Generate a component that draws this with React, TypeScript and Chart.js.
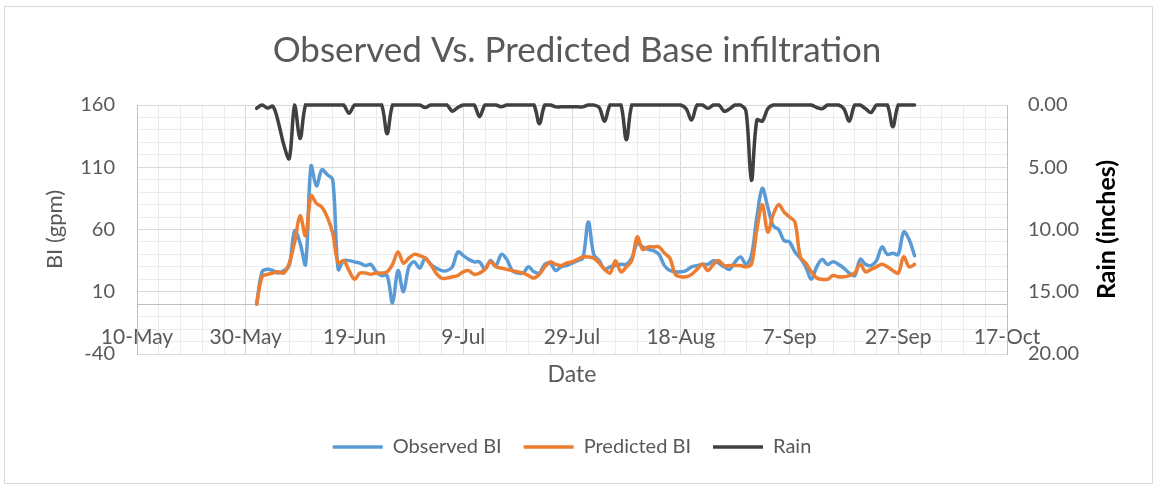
import React, { useEffect, useRef } from 'react';
import { Chart, registerables } from 'chart.js';

Chart.register(...registerables);

const FONT = 'Lato, "Noto Sans", sans-serif';

// x values are days after 10-May; the series start on 1-Jun (day 22), one value per day
const firstDay = 22;
const xTickLabels = ['10-May', '30-May', '19-Jun', '9-Jul', '29-Jul', '18-Aug', '7-Sep', '27-Sep', '17-Oct'];
const leftTickLabels = [-40, 10, 60, 110, 160];

const observedBI = [
  0, 26, 28, 27, 25, 27, 31, 59, 49, 32,
  111, 95, 108, 104, 100, 28, 35, 35, 34, 33,
  31, 32, 26, 23, 23, 1, 27, 10, 30, 34,
  29, 37, 32, 29, 27, 27, 30, 42, 39, 36,
  34, 34, 28, 35, 31, 40, 36, 27, 25, 25,
  30, 26, 25, 32, 33, 27, 30, 31, 33, 35,
  37, 66, 40, 35, 28, 30, 31, 32, 32, 37,
  49, 46, 44, 43, 40, 31, 27, 26, 26, 27,
  30, 31, 32, 32, 35, 33, 30, 28, 34, 38,
  32, 39, 70, 93, 78, 63, 60, 51, 50, 42,
  37, 30, 20, 30, 36, 32, 34, 32, 29, 25,
  23, 36, 32, 31, 35, 46, 40, 41, 40, 58,
  52, 39,
];

const predictedBI = [
  0, 22, 24, 25, 26, 25, 33, 50, 71, 55,
  87, 81, 78, 70, 57, 33, 35, 27, 20, 25,
  25, 24, 25, 25, 26, 32, 42, 33, 37, 40,
  39, 37, 32, 25, 21, 21, 22, 23, 26, 27,
  24, 25, 28, 34, 30, 29, 28, 27, 26, 25,
  23, 21, 24, 30, 34, 32, 31, 33, 34, 36,
  38, 38, 37, 33, 28, 25, 35, 26, 30, 35,
  54, 44, 46, 46, 46, 41, 37, 24, 22, 22,
  24, 28, 32, 27, 32, 35, 31, 31, 31, 31,
  30, 32, 60, 80, 58, 72, 80, 74, 70, 66,
  38, 33, 26, 21, 20, 20, 23, 22, 22, 23,
  25, 32, 26, 28, 30, 32, 30, 27, 25, 38,
  30, 32,
];

const rainInches = [
  0.27, 0, 0.25, 0.1, 1.4, 3.2, 4.3, 0, 2.7, 0,
  0, 0, 0, 0, 0, 0, 0, 0.67, 0, 0,
  0, 0, 0, 0, 2.3, 0, 0, 0, 0, 0,
  0, 0.2, 0, 0, 0, 0, 0.5, 0.2, 0, 0,
  0, 0.94, 0, 0, 0, 0.15, 0, 0, 0, 0,
  0, 0, 1.5, 0, 0, 0.15, 0.15, 0.15, 0.15, 0.15,
  0.15, 0, 0, 0.2, 1.3, 0, 0, 0, 2.8, 0,
  0, 0, 0, 0, 0, 0, 0, 0, 0, 0.3,
  1.2, 0, 0, 0.27, 0, 0, 0.5, 0.3, 0, 0,
  0.5, 6.05, 1.2, 1.3, 0.3, 0, 0, 0, 0, 0,
  0, 0, 0, 0.2, 0.3, 0, 0, 0, 0.3, 1.3,
  0, 0, 0.3, 0.6, 0, 0, 0, 1.75, 0, 0,
  0, 0,
];

const TEXT = '#595959';
const MAJOR = '#d9d9d9';
const MINOR = '#ececec';

export default function App() {
  const ref = useRef<HTMLCanvasElement>(null);

  useEffect(() => {
    document.body.style.margin = '0';
    const toPoints = (arr: number[]) => arr.map((v, i) => ({ x: firstDay + i, y: v }));

    const extras = {
      id: 'extras',
      afterDraw(chart: any) {
        const ctx = chart.ctx;
        const area = chart.chartArea;
        const midY = (area.top + area.bottom) / 2;
        ctx.save();
        ctx.strokeStyle = '#d9d9d9';
        ctx.lineWidth = 1;
        ctx.strokeRect(4.5, 6.5, 1148, 477);
        ctx.fillStyle = TEXT;
        ctx.font = `23px ${FONT}`;
        ctx.textAlign = 'center';
        ctx.textBaseline = 'middle';
        ctx.fillText('Date', (area.left + area.right) / 2, 375);
        ctx.save();
        ctx.translate(55, midY);
        ctx.rotate(-Math.PI / 2);
        ctx.font = `22px ${FONT}`;
        ctx.fillText('BI (gpm)', 0, 0);
        ctx.restore();
        ctx.translate(1107, midY);
        ctx.rotate(-Math.PI / 2);
        ctx.fillStyle = '#000000';
        ctx.font = `bold 25px ${FONT}`;
        ctx.fillText('Rain (inches)', 0, 0);
        ctx.restore();
      },
    };

    const chart = new Chart(ref.current as HTMLCanvasElement, {
      type: 'line',
      data: {
        datasets: [
          {
            label: 'Observed BI',
            data: toPoints(observedBI),
            borderColor: '#5B9BD5',
            backgroundColor: '#5B9BD5',
            borderWidth: 3.5,
            borderCapStyle: 'round',
            pointRadius: 0,
            tension: 0.35,
            yAxisID: 'y',
            order: 3,
          },
          {
            label: 'Predicted BI',
            data: toPoints(predictedBI),
            borderColor: '#ED7D31',
            backgroundColor: '#ED7D31',
            borderWidth: 3.5,
            borderCapStyle: 'round',
            pointRadius: 0,
            tension: 0.35,
            yAxisID: 'y',
            order: 2,
          },
          {
            label: 'Rain',
            data: toPoints(rainInches),
            borderColor: '#404040',
            backgroundColor: '#404040',
            borderWidth: 3.5,
            borderCapStyle: 'round',
            pointRadius: 0,
            tension: 0.35,
            yAxisID: 'y2',
            order: 1,
            clip: false as any,
          },
        ],
      },
      options: {
        animation: false,
        responsive: false,
        devicePixelRatio: 1,
        layout: { padding: { top: 0, left: 0, right: 0, bottom: 18 } },
        plugins: {
          title: {
            display: true,
            text: 'Observed Vs. Predicted Base infiltration',
            color: TEXT,
            font: { family: FONT, size: 35, weight: 'normal' },
            padding: { top: 30, bottom: 33 },
          },
          legend: {
            position: 'bottom',
            fullSize: false,
            labels: {
              usePointStyle: true,
              pointStyle: 'line',
              pointStyleWidth: 50,
              color: TEXT,
              font: { family: FONT, size: 20 },
              padding: 22,
              sort: (a: any, b: any) => a.datasetIndex - b.datasetIndex,
            },
          },
          tooltip: { enabled: false },
        },
        scales: {
          x: {
            type: 'linear',
            axis: 'x',
            position: { y: 0 } as any,
            min: 0,
            max: 160,
            grid: {
              color: (c: any) => (c.tick && c.tick.value % 20 === 0 ? MAJOR : MINOR),
              drawTicks: false,
            },
            border: { display: true, color: '#bfbfbf', width: 1 },
            ticks: {
              stepSize: 4,
              autoSkip: false,
              maxRotation: 0,
              minRotation: 0,
              padding: 20,
              color: TEXT,
              font: { family: FONT, size: 21 },
              callback: (v: any) => (Number(v) % 20 === 0 ? xTickLabels[Number(v) / 20] : ''),
            },
          },
          xSpace: {
            type: 'linear',
            axis: 'x',
            position: 'bottom',
            min: 0,
            max: 160,
            afterFit: (s: any) => { s.height = 61; },
            grid: { display: false, drawTicks: false },
            border: { display: false },
            ticks: { display: false },
          },
          y: {
            type: 'linear',
            position: 'left',
            min: -40,
            max: 160,
            afterFit: (s: any) => { s.width = 137; },
            grid: {
              color: (c: any) => (c.tick && (c.tick.value + 40) % 50 === 0 ? MAJOR : MINOR),
              drawTicks: false,
            },
            border: { display: true, color: '#bfbfbf', width: 1 },
            ticks: {
              stepSize: 10,
              autoSkip: false,
              padding: 22,
              color: TEXT,
              font: { family: FONT, size: 20 },
              callback: (v: any) => (leftTickLabels.includes(Number(v)) ? String(v) : ''),
            },
          },
          y2: {
            type: 'linear',
            position: 'right',
            reverse: true,
            min: 0,
            max: 20,
            afterFit: (s: any) => { s.width = 147; },
            grid: { drawOnChartArea: false, drawTicks: false },
            border: { display: true, color: '#bfbfbf', width: 1 },
            ticks: {
              stepSize: 5,
              autoSkip: false,
              padding: 21,
              color: TEXT,
              font: { family: FONT, size: 20 },
              callback: (v: any) => Number(v).toFixed(2),
            },
          },
        },
      },
      plugins: [extras],
    });
    return () => chart.destroy();
  }, []);

  return (
    <canvas
      ref={ref}
      width={1154}
      height={485}
      style={{ display: 'block', width: 1154, height: 485 }}
    />
  );
}
